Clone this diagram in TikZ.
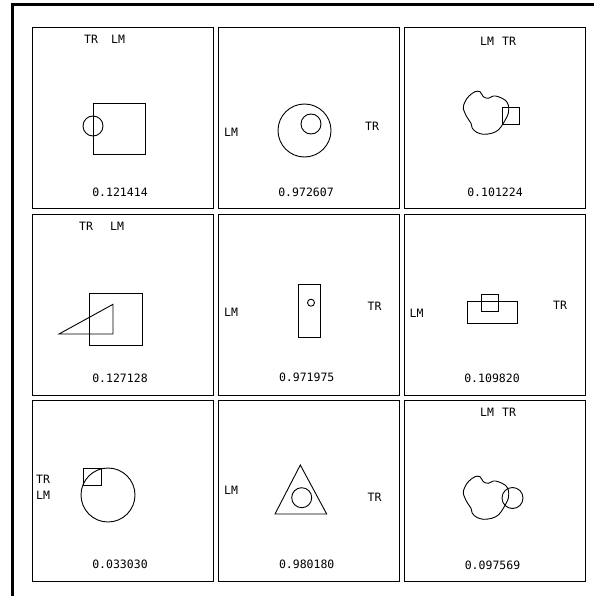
\documentclass[tikz,border=0pt]{standalone}
\usepackage{fontspec}
\setmonofont{DejaVu Sans Mono}
\usepackage{tikz}
\usetikzlibrary{positioning}
\tikzset{
  cell/.style={rectangle, draw=black, line width=1.2pt, anchor=north west,
               minimum width=181pt, minimum height=181pt, inner sep=0pt},
  outline/.style={draw=black, line width=0.9pt},
  tag/.style={font=\ttfamily\fontsize{11.5}{13}\selectfont, inner sep=0pt},
  score/.style={font=\ttfamily\fontsize{11.5}{13}\selectfont, inner sep=0pt},
  frame/.style={line width=3.5pt, draw=black},
  blob/.pic={\draw[outline] plot[smooth cycle, tension=0.55] coordinates {
      (71,64.7) (76,64.7) (79.3,69.7) (84.3,71.3) (89.3,69) (94.3,69.7)
      (101,73) (104.3,78) (104.3,86.3) (99.3,96.3) (94.3,103) (87.7,106.3)
      (79.3,107.3) (72.7,105.3) (68.3,101.3) (67,96.3) (62.7,89.7)
      (59.3,81.3) (61,74.7) (65,69)};},
}

\begin{document}
\begin{tikzpicture}[x=1pt, y=-1pt]
  \useasboundingbox (0,0) rectangle (594,596);

  % outer frame (left and top only)
  \draw[frame] (12.5,596) -- (12.5,4.5) -- (594,4.5);

  % row 1
  \begin{scope}[shift={(32,27)}]
    \node[cell] (c1) at (0,0) {};
    \node[tag] (c1tr) at (59,12) {TR};
    \node[tag] (c1lm) at (86,12) {LM};
    \draw[outline] (61,76) rectangle (113,127);
    \draw[outline] (61,99) circle[radius=10pt];
    \node[score] (c1s) at (88,165) {0.121414};
  \end{scope}

  \begin{scope}[shift={(218,27)}]
    \node[cell] (c2) at (0,0) {};
    \node[tag] (c2lm) at (13,105) {LM};
    \node[tag] (c2tr) at (154,99) {TR};
    \draw[outline] (86.5,103.5) circle[radius=26.5pt];
    \draw[outline] (93,97) circle[radius=10pt];
    \node[score] (c2s) at (88,165) {0.972607};
  \end{scope}

  \begin{scope}[shift={(404,27)}]
    \node[cell] (c3) at (0,0) {};
    \node[tag] (c3lm) at (83,14) {LM};
    \node[tag] (c3tr) at (105,14) {TR};
    \pic at (0,0) {blob};
    \draw[outline] (98,80) rectangle (115,97);
    \node[score] (c3s) at (91,165) {0.101224};
  \end{scope}

  % row 2
  \begin{scope}[shift={(32,214)}]
    \node[cell] (c4) at (0,0) {};
    \node[tag] (c4tr) at (54,12) {TR};
    \node[tag] (c4lm) at (85,12) {LM};
    \draw[outline] (57,79) rectangle (110,131);
    \draw[outline] (27,120) -- (81,90.3) -- (81,120) -- cycle;
    \node[score] (c4s) at (88,164) {0.127128};
  \end{scope}

  \begin{scope}[shift={(218,214)}]
    \node[cell] (c5) at (0,0) {};
    \node[tag] (c5lm) at (13,98) {LM};
    \node[tag] (c5tr) at (156.5,92) {TR};
    \draw[outline] (80.7,70.7) rectangle (102.7,123.3);
    \draw[outline] (93,88.7) circle[radius=3.5pt];
    \node[score] (c5s) at (88.7,163) {0.971975};
  \end{scope}

  \begin{scope}[shift={(404,214)}]
    \node[cell] (c6) at (0,0) {};
    \node[tag] (c6lm) at (12.5,99) {LM};
    \node[tag] (c6tr) at (156,91) {TR};
    \draw[outline] (63.7,87.7) rectangle (113.3,109.3);
    \draw[outline] (77,80.3) rectangle (94.3,97.3);
    \node[score] (c6s) at (88,164) {0.109820};
  \end{scope}

  % row 3
  \begin{scope}[shift={(32,400)}]
    \node[cell] (c7) at (0,0) {};
    \node[tag, anchor=west] (c7tr) at (4,79) {TR};
    \node[tag, anchor=west] (c7lm) at (4,95) {LM};
    \draw[outline] (76,95) circle[radius=27pt];
    \draw[outline] (51,68) rectangle (69,85);
    \node[score] (c7s) at (88,164) {0.033030};
  \end{scope}

  \begin{scope}[shift={(218,400)}]
    \node[cell] (c8) at (0,0) {};
    \node[tag] (c8lm) at (13,90) {LM};
    \node[tag] (c8tr) at (156.5,97) {TR};
    \draw[outline] (82.3,65) -- (57,114) -- (108.7,114) -- cycle;
    \draw[outline] (83.7,97.7) circle[radius=10pt];
    \node[score] (c8s) at (88.7,164) {0.980180};
  \end{scope}

  \begin{scope}[shift={(404,400)}]
    \node[cell] (c9) at (0,0) {};
    \node[tag] (c9lm) at (83,12) {LM};
    \node[tag] (c9tr) at (105,12) {TR};
    \pic at (0,12) {blob};
    \draw[outline] (108.5,98) circle[radius=10.5pt];
    \node[score] (c9s) at (88.5,165) {0.097569};
  \end{scope}

\end{tikzpicture}
\end{document}
